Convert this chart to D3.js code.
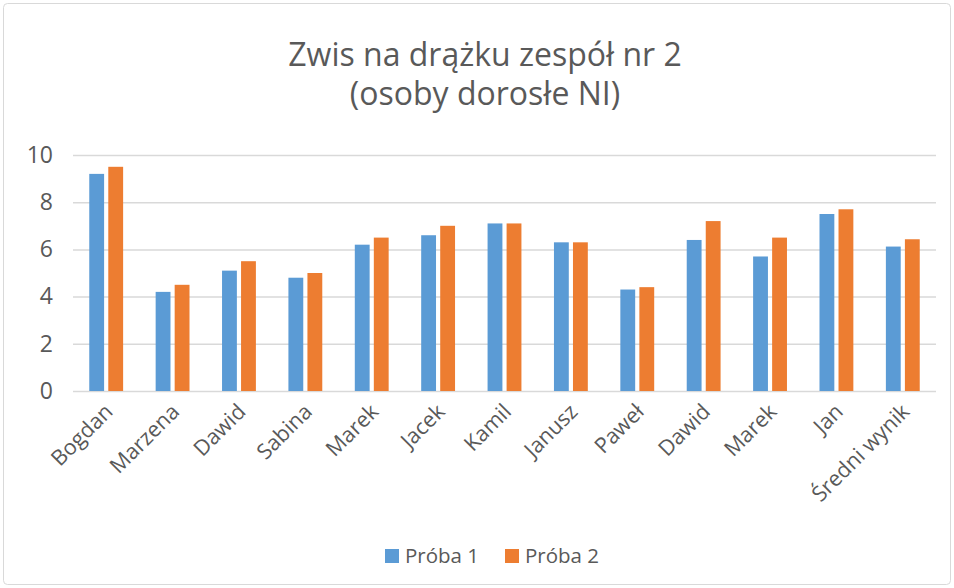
<!DOCTYPE html>
<html>
<head>
<meta charset="utf-8">
<script src="https://cdn.jsdelivr.net/npm/d3@7"></script>
<style>
  body { margin: 0; background: #fff; }
  text { font-family: "Open Sans", sans-serif; fill: #595959; }
</style>
</head>
<body>
<svg id="chart" width="954" height="588"></svg>
<script>
// data
var categories = ["Bogdan", "Marzena", "Dawid", "Sabina", "Marek", "Jacek", "Kamil",
                  "Janusz", "Paweł", "Dawid", "Marek", "Jan", "Średni wynik"];
var proba1 = [9.2, 4.2, 5.1, 4.8, 6.2, 6.6, 7.1, 6.3, 4.3, 6.4, 5.7, 7.5, 6.12];
var proba2 = [9.5, 4.5, 5.5, 5.0, 6.5, 7.0, 7.1, 6.3, 4.4, 7.2, 6.5, 7.7, 6.43];
var seriesNames = ["Próba 1", "Próba 2"];
var yTicks = [0, 2, 4, 6, 8, 10];
var colors = ["#5b9bd5", "#ed7d31"];

var svg = d3.select("#chart");

// chart frame
svg.append("rect")
    .attr("x", 3.5).attr("y", 3.5)
    .attr("width", 947).attr("height", 581)
    .attr("rx", 4)
    .attr("fill", "#fff")
    .attr("stroke", "#d9d9d9");

// title
var title = svg.append("text")
    .attr("text-anchor", "middle")
    .attr("font-size", 32);
title.append("tspan").attr("x", 485).attr("y", 66).text("Zwis na drążku zespół nr 2");
title.append("tspan").attr("x", 485).attr("y", 105).text("(osoby dorosłe NI)");

var keys = categories.map(function(d, i) { return i; });

var x0 = d3.scaleBand()
    .domain(keys)
    .range([73, 936])
    .paddingInner(0.49)
    .paddingOuter(0.245);

var x1 = d3.scaleBand()
    .domain([0, 1])
    .range([0, x0.bandwidth()])
    .paddingInner(0.22);

var y = d3.scaleLinear().domain([0, 10]).range([391, 155]);

// gridlines
svg.append("g")
    .attr("class", "grid")
    .attr("transform", "translate(73,0)")
    .call(d3.axisLeft(y).tickValues(yTicks).tickSize(-863).tickFormat(""))
    .call(function(g) { g.select(".domain").remove(); })
    .selectAll("line")
    .attr("stroke", "#d9d9d9")
    .attr("stroke-width", 1.5);

// y labels
svg.append("g")
    .attr("transform", "translate(53,0)")
    .call(d3.axisLeft(y).tickValues(yTicks).tickSize(0).tickPadding(0))
    .call(function(g) { g.select(".domain").remove(); })
    .selectAll("text")
    .attr("font-size", 23)
    .attr("font-family", null)
    .attr("fill", null);

// bars
var rows = keys.map(function(i) { return [proba1[i], proba2[i]]; });

svg.append("g").selectAll("g")
    .data(rows)
  .enter().append("g")
    .attr("transform", function(d, i) { return "translate(" + x0(i) + ",0)"; })
  .selectAll("rect")
    .data(function(d) { return d; })
  .enter().append("rect")
    .attr("x", function(d, j) { return x1(j); })
    .attr("width", x1.bandwidth())
    .attr("y", function(d) { return y(d); })
    .attr("height", function(d) { return y(0) - y(d); })
    .attr("fill", function(d, j) { return colors[j]; });

// category labels
svg.append("g").selectAll("text")
    .data(categories)
  .enter().append("text")
    .attr("font-size", 21.5)
    .attr("text-anchor", "end")
    .attr("transform", function(d, i) {
      var cx = x0(i) + x0.bandwidth() / 2 + 8;
      return "translate(" + cx + ",413) rotate(-45)";
    })
    .text(function(d) { return d; });

// legend
var legend = svg.append("g").selectAll("g")
    .data(seriesNames)
  .enter().append("g")
    .attr("transform", function(d, i) { return "translate(" + (385 + i * 120) + ",549)"; });

legend.append("rect")
    .attr("width", 14).attr("height", 14)
    .attr("fill", function(d, i) { return colors[i]; });

legend.append("text")
    .attr("x", 20).attr("y", 14)
    .attr("font-size", 20.5)
    .text(function(d) { return d; });
</script>
</body>
</html>
